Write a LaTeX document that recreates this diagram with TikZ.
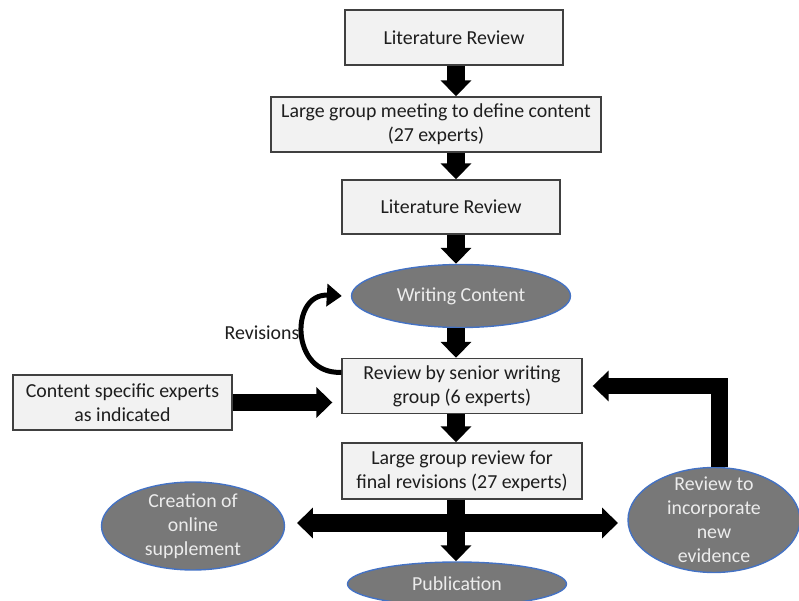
\documentclass[tikz,border=0pt]{standalone}
\usepackage{fontspec}
\setmainfont{Carlito}
\usepackage{xcolor}
\usepackage{tikz}
\usetikzlibrary{arrows.meta,shapes.geometric}
\definecolor{boxline}{RGB}{64,64,64}
\definecolor{boxfill}{RGB}{242,242,242}
\definecolor{ovalfill}{RGB}{120,120,120}
\definecolor{ovalline}{RGB}{68,114,196}
\definecolor{ovaltext}{RGB}{236,236,236}
\definecolor{figtext}{RGB}{30,30,30}
\tikzset{
  bx/.style  ={draw=boxline, fill=boxfill, line width=0.8pt, align=center, inner sep=0pt,
               font=\fontsize{11.3}{13.6}\selectfont, text=figtext},
  ov/.style  ={ellipse, draw=ovalline, fill=ovalfill, line width=0.8pt, align=center, inner sep=0pt,
               font=\fontsize{11.3}{13.6}\selectfont, text=ovaltext},
  lab/.style ={font=\fontsize{11.3}{13.6}\selectfont, text=figtext, inner sep=1pt},
  blk/.style ={draw=black, line width=0.35cm, line cap=butt, -{Triangle[length=0.32cm,width=0.6cm]}},
  blkk/.style={draw=black, line width=0.35cm, line cap=butt,
               {Triangle[length=0.32cm,width=0.6cm]}-{Triangle[length=0.32cm,width=0.6cm]}},
  rev/.style ={draw=black, line width=0.1cm, -{Triangle[length=0.3cm,width=0.44cm]}},
}
\begin{document}
\begin{tikzpicture}[x=0.02cm,y=-0.02cm]
  \useasboundingbox (0,0) rectangle (799,601);
  \coordinate (axis) at (456,0);
  \node[bx, minimum width=4.36cm, minimum height=1.1cm] (lit1) at (454,37.5) {Literature Review};
  \node[bx, minimum width=6.6cm, minimum height=1.1cm] (meet) at (436,124.5) {Large group meeting to define content\\(27 experts)};
  \node[bx, minimum width=4.36cm, minimum height=1.08cm] (lit2) at (451,207) {Literature Review};
  \node[ov, minimum width=4.38cm, minimum height=1.26cm] (write) at (461,296) {Writing Content};
  \node[bx, minimum width=4.8cm, minimum height=1.1cm] (senior) at (462,386) {Review by senior writing\\group (6 experts)};
  \node[bx, minimum width=4.38cm, minimum height=1.1cm] (experts) at (122.5,402.5) {Content specific experts\\as indicated};
  \node[bx, minimum width=4.8cm, minimum height=1.12cm] (final) at (462,471) {Large group review for\\final revisions (27 experts)};
  \node[ov, minimum width=3.66cm, minimum height=1.76cm, inner ysep=-1.5pt] (online) at (193,526) {Creation of\\online\\supplement};
  \node[ov, minimum width=4.38cm, minimum height=0.88cm] (publ) at (457,584) {Publication};
  \node[ov, minimum width=3.44cm, minimum height=2.1cm, inner ysep=-5pt] (newev) at (714,520) {Review to\\incorporate\\new\\evidence};
  \node[lab] (revlab) at (262,333) {Revisions};
  \coordinate (lefttip) at (297,523);
  \coordinate (righttip) at (618,523);

  \draw[blk] (lit1.south -| axis) -- (meet.north -| axis);
  \draw[blk] (meet.south -| axis) -- (lit2.north -| axis);
  \draw[blk] (lit2.south -| axis) -- (write.north -| axis);
  \draw[blk] (write.south -| axis) -- (senior.north -| axis);
  \draw[blk] (senior.south -| axis) -- (final.north -| axis);
  \draw[blk] (final.south -| axis) -- (publ.north -| axis);
  \draw[blkk] (lefttip) -- (righttip);
  \draw[blk, shorten >=0.18cm] (experts.east) -- (experts.east -| senior.west);
  \draw[blk, line width=0.34cm, shorten >=0.2cm] ([xshift=0.1cm]newev.north) |- (senior.east);
  \draw[rev] ([yshift=-0.29cm]senior.north west) .. controls (290,375) and (290,293) .. ([xshift=-0.18cm]write.west);
\end{tikzpicture}
\end{document}
